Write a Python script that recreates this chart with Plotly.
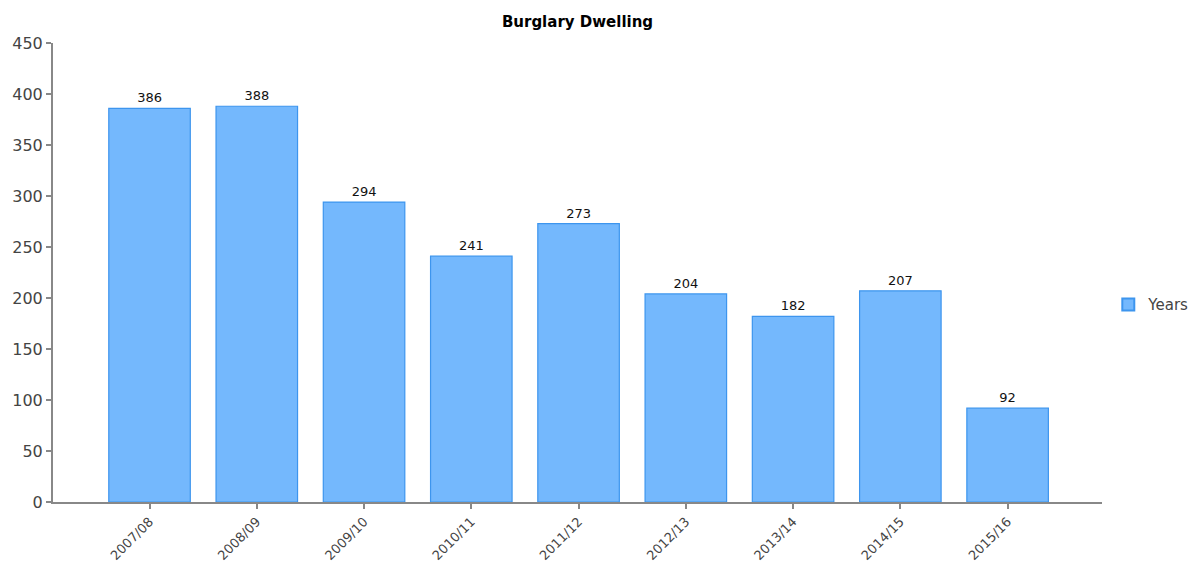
import plotly.graph_objects as go

categories = ["2007/08", "2008/09", "2009/10", "2010/11", "2011/12", "2012/13", "2013/14", "2014/15", "2015/16"]
values = [386, 388, 294, 241, 273, 204, 182, 207, 92]
series_name = "Years"
y_ticks = [0, 50, 100, 150, 200, 250, 300, 350, 400, 450]

fig = go.Figure()
fig.add_trace(go.Bar(
    x=categories, y=values, name=series_name,
    marker=dict(color="#74b8fd", line=dict(color="#3d95ee", width=1.2)),
    width=0.76,
    text=[str(v) for v in values], textposition="outside",
    textfont=dict(family="DejaVu Sans", size=13, color="#111"),
    cliponaxis=False,
    showlegend=True,
))

# page body has an 8px margin: figure is sized/offset to compensate
fig.update_layout(
    width=1195, height=554,
    margin=dict(l=45, r=101, t=35, b=60, autoexpand=False),
    paper_bgcolor="white", plot_bgcolor="white",
    title=dict(text="<b>Burglary Dwelling</b>", x=0.5, xref="paper", y=1 - 14/554, yanchor="middle",
               font=dict(family="DejaVu Sans", size=15, color="#000")),
    showlegend=True,
    legend=dict(x=1.006, xanchor="left", y=0.43, yanchor="middle",
                font=dict(family="DejaVu Sans", size=15, color="#444"),
                itemwidth=30, itemsizing="constant"),
    bargap=0.24,
)
fig.update_xaxes(
    type="category", range=[-0.9, 8.88], automargin=False,
    showline=True, linecolor="#888", linewidth=2,
    ticks="outside", ticklen=5, tickcolor="#888", tickwidth=2,
    tickangle=-45, tickfont=dict(family="DejaVu Sans", size=13, color="#444"),
    showgrid=False,
)
fig.update_yaxes(
    range=[0, 450], tickvals=y_ticks, automargin=False,
    showline=True, linecolor="#888", linewidth=2,
    ticks="outside", ticklen=5, tickcolor="#888", tickwidth=2,
    tickfont=dict(family="DejaVu Sans", size=16, color="#444"),
    showgrid=False, zeroline=False,
)
fig.write_html("out.html")
